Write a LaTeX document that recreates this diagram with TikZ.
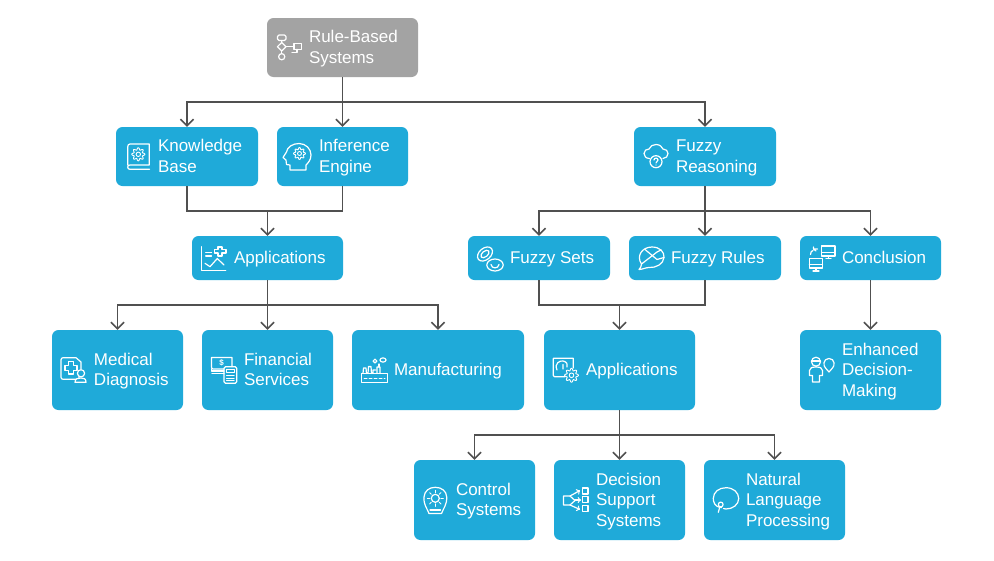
\documentclass[tikz,border=0pt]{standalone}
\usepackage{fontspec}
\setmainfont{Liberation Sans}
\usetikzlibrary{arrows.meta,calc}
\definecolor{boxblue}{HTML}{1FAAD9}
\definecolor{boxgray}{HTML}{A3A3A3}
\definecolor{linegray}{HTML}{505050}
\tikzset{
  box/.style={fill=boxblue,rounded corners=6.5pt,inner sep=0pt,text=white,font=\fontsize{17}{20.5}\selectfont},
  graybox/.style={box,fill=boxgray},
  link/.style={draw=linegray,line width=1.8pt},
  arr/.style={link,-{Straight Barb[length=6.5pt,width=13pt,line width=1.6pt]}},
  ico/.style={draw=white,line width=1.2pt,line cap=round,line join=round},
}
\newcommand{\bx}[7][box]{%
  \pgfmathsetmacro{\bw}{#5-#3}\pgfmathsetmacro{\bh}{#6-#4}%
  \pgfmathsetmacro{\cx}{(#3+#5)/2}\pgfmathsetmacro{\cy}{(#4+#6)/2}%
  \node[#1,minimum width=\bw pt,minimum height=\bh pt] (#2) at (\cx,\cy)
    {\makebox[\bw pt][l]{\hspace{42pt}\begin{tabular}{@{}l@{}}\noalign{\vskip 3pt}#7\end{tabular}}};}
\newcommand{\gearico}[3]{%
  \draw[ico,line width=.9pt] plot[domain=0:360,samples=81,smooth] ({#1+#3*(1+.2*cos(8*\x))*cos(\x)},{#2+#3*(1+.2*cos(8*\x))*sin(\x)});
  \draw[ico,line width=.9pt] (#1,#2) circle[radius=#3*.4];}
\begin{document}
\begin{tikzpicture}[x=1pt,y=-1pt]
\useasboundingbox (0,0) rectangle (994,560);
\fill[white] (0,0) rectangle (994,560);
% boxes
\bx[graybox]{root}{267}{18}{418}{77}{Rule-Based\\Systems}
\bx{kb}{116}{127}{258}{186}{Knowledge\\Base}
\bx{ie}{277}{127}{408}{186}{Inference\\Engine}
\bx{fr}{634}{127}{776}{186}{Fuzzy\\Reasoning}
\bx{appa}{192}{236}{343}{280}{Applications}
\bx{fs}{468}{236}{610}{280}{Fuzzy Sets}
\bx{fru}{629}{236}{781}{280}{Fuzzy Rules}
\bx{conc}{800}{236}{941}{280}{Conclusion}
\bx{med}{52}{330}{183}{410}{Medical\\Diagnosis}
\bx{fin}{202}{330}{333}{410}{Financial\\Services}
\bx{man}{352}{330}{524}{410}{Manufacturing}
\bx{appb}{544}{330}{695}{410}{Applications}
\bx{enh}{800}{330}{941}{410}{Enhanced\\Decision-\\Making}
\bx{ctl}{414}{460}{535}{540}{Control\\Systems}
\bx{dss}{554}{460}{685}{540}{Decision\\Support\\Systems}
\bx{nlp}{704}{460}{845}{540}{Natural\\Language\\Processing}
% connectors
\coordinate (j1) at (root.south |- 0,102);
\draw[link] (root.south) -- (j1);
\draw[arr] (j1) -| (kb.north);
\draw[arr] (j1) -- (ie.north);
\draw[arr] (j1) -| (fr.north);
\coordinate (j2) at (appa.north |- 0,211);
\draw[link] (kb.south) |- (j2);
\draw[link] (ie.south) |- (j2);
\draw[arr] (j2) -- (appa.north);
\coordinate (j3) at (appa.south |- 0,305);
\draw[link] (appa.south) -- (j3);
\draw[arr] (j3) -| (med.north);
\draw[arr] (j3) -- (fin.north);
\draw[arr] (j3) -| (man.north);
\coordinate (j4) at (fr.south |- 0,211);
\draw[link] (fr.south) -- (j4);
\draw[arr] (j4) -| (fs.north);
\draw[arr] (j4) -- (fru.north);
\draw[arr] (j4) -| (conc.north);
\coordinate (j5) at (appb.north |- 0,305);
\draw[link] (fs.south) |- (j5);
\draw[link] (fru.south) |- (j5);
\draw[arr] (j5) -- (appb.north);
\draw[arr] (conc.south) -- (enh.north);
\coordinate (j6) at (appb.south |- 0,435);
\draw[link] (appb.south) -- (j6);
\draw[arr] (j6) -| (ctl.north);
\draw[arr] (j6) -- (dss.north);
\draw[arr] (j6) -| (nlp.north);
% --- icons ---
% root: flowchart
\draw[ico,rounded corners=1.5pt] (277.5,35) rectangle (286,40.5);
\draw[ico] (281.7,40.5) -- (281.7,42.5) (281.7,42.5) -- (286,46.7) -- (281.7,51) -- (277.4,46.7) -- cycle;
\draw[ico] (281.7,51) -- (281.7,53.5);
\draw[ico] (281.7,56.7) circle[radius=3.1];
\draw[ico] (286,46.7) -- (294,46.7);
\draw[ico] (294,43.3) rectangle (301.7,49.3);
\draw[ico] (292,52.5) -- (297,52.5) -- (297,49.3);
% knowledge base: book with gear
\draw[ico] (127.7,165) -- (127.7,147) .. controls (127.7,145) and (128.5,144) .. (130,144) -- (149.3,144) -- (149.3,165) -- (130,165) .. controls (128.5,165) and (127.7,166) .. (127.7,167) .. controls (127.7,168.5) and (128.5,169.3) .. (130,169.3) -- (149.5,169.3);
\gearico{138.3}{154.3}{5.5}
% inference engine: head with gear
\draw[ico] (290,170) -- (290,165) -- (286.5,164.5) -- (286,160) -- (283,157.5) -- (286.5,152) .. controls (287,147) and (293,143.5) .. (299,143.5) .. controls (306,143.5) and (311,149) .. (311,155) .. controls (311,160) and (308,163) .. (306,165) -- (306,170) -- cycle;
\gearico{299.5}{153.5}{5}
% fuzzy reasoning: cloud with question mark
\draw[ico] (649.5,158.5) .. controls (646,158.5) and (644,156) .. (644,153.5) .. controls (644,150.5) and (646.5,149) .. (649,149) .. controls (650,146) and (653,144.5) .. (656,144.5) .. controls (660,144.5) and (662,147) .. (663,149) .. controls (666,149) and (668,151) .. (668,153.5) .. controls (668,156) and (666,158.5) .. (663,158.5);
\draw[ico] (656,161.7) circle[radius=6];
\draw[ico] (654,160) .. controls (654,157.5) and (658,157.5) .. (658,160) .. controls (658,161.5) and (656,161.5) .. (656,163);
\fill[white] (656,165) circle[radius=.7];
% applications 1: chart
\draw[ico] (201.7,246.7) -- (201.7,270.3) -- (225.7,270.3);
\draw[ico] (205.7,252.3) -- (211.5,252.3) (205.7,256) -- (211.5,256);
\draw[ico] (205,263.3) -- (210,266.7) -- (217.3,258.5) -- (224,265);
\draw[ico] (218,247) -- (222,247) -- (222,249.5) -- (226,249.5) -- (226,253) -- (222,253) -- (222,256) -- (218,256) -- (218,253) -- (214.5,253) -- (214.5,249.5) -- (218,249.5) -- cycle;
% fuzzy sets: ovals
\draw[ico,rotate around={40:(485,254)}] (485,254) ellipse[x radius=8.5,y radius=5.8];
\draw[ico,rotate around={40:(485,254)}] (485,254) ellipse[x radius=4.8,y radius=2.8];
\draw[ico] (495,265) ellipse[x radius=8.2,y radius=6];
\draw[ico] (491,264.5) .. controls (491.5,269) and (498.5,269) .. (499,264.5);
% fuzzy rules: bubble with X
\draw[ico] (641.5,264) .. controls (636,256) and (642,247) .. (652,247) .. controls (660,247) and (664.5,252) .. (664,257.5) .. controls (663.5,264) and (656,268) .. (649,267.5) .. controls (646,267.5) and (642,269.5) .. (639,269.5) .. controls (640.5,268) and (641.5,266) .. (641.5,264) -- cycle;
\draw[ico] (645,249.5) -- (657,259.5) -- (664,257.5) (641.5,264) -- (657,252) -- (661,250);
% conclusion: monitors and arrows
\draw[ico] (821.7,246) rectangle (835,256);
\draw[ico] (821.7,252.5) -- (835,252.5) (826,258.5) -- (831,258.5) (828.3,256) -- (828.3,258.5);
\draw[ico] (809.3,258.5) rectangle (822.5,268);
\draw[ico] (809.3,264.5) -- (822.5,264.5) (813,271) -- (819,271) (816,268) -- (816,271);
\draw[ico] (810.5,254.5) .. controls (810.5,252) and (811.5,251) .. (813,250.5) (817.5,249) -- (813.5,249) (813.5,247) -- (813.5,249) -- (816,251);
% applications 2: framed face with gear
\draw[ico] (565,376.7) -- (554.5,376.7) -- (553.3,375.5) -- (553.3,358.3) -- (573.3,358.3) -- (573.3,368);
\draw[ico] (557,370) .. controls (554,363) and (560,360.5) .. (563,361) .. controls (567,361.5) and (568,365) .. (567,367) (563,364.5) -- (563,369);
\gearico{571.5}{375.3}{5.8}
% enhanced: person and bulb
\draw[ico] (816,361.7) circle[radius=4.5];
\draw[ico] (811.5,361) -- (820.5,361);
\draw[ico] (812.5,382) -- (812.5,375.5) -- (809.5,375.5) -- (809.5,370.5) .. controls (809.5,368) and (812,367) .. (816,367) .. controls (820,367) and (822.5,368) .. (822.5,370.5) -- (822.5,375.5) -- (819.5,375.5) -- (819.5,382) -- cycle;
\draw[ico] (825.5,368) .. controls (823,366) and (823,358.5) .. (829,358.5) .. controls (835,358.5) and (835,366) .. (832.5,368) -- (829,372) -- cycle;
% medical
\draw[ico] (79,376.5) -- (79,379.3) -- (63,379.3) .. controls (62,379.3) and (61,378.3) .. (61,377.3) -- (61,359.7) .. controls (61,358.7) and (62,357.7) .. (63,357.7) -- (76,357.7) -- (81,362) -- (81,369);
\draw[ico] (68.5,361.5) -- (73.5,361.5) -- (73.5,365.2) -- (77,365.2) -- (77,370.2) -- (73.5,370.2) -- (73.5,374) -- (68.5,374) -- (68.5,370.2) -- (65,370.2) -- (65,365.2) -- (68.5,365.2) -- cycle;
\draw[ico,fill=boxblue] (81,373.3) circle[radius=3.6];
\draw[ico,fill=boxblue] (75,382.3) .. controls (75,378.5) and (78,378) .. (81,378) .. controls (84,378) and (86,378.5) .. (86,382.3) -- cycle;
% financial
\draw[ico] (224,369) -- (213,369) .. controls (212,369) and (211.5,368) .. (211.5,367) -- (211.5,357.5) -- (232,357.5) -- (232,366.7);
\draw[ico] (211.5,369) -- (211.5,371) -- (224,371) (212,373.5) -- (224,373.5);
\node[text=white,inner sep=0pt,font=\fontsize{8}{8}\bfseries] (dollar) at (221.7,362.6) {\$};
\draw[ico,rounded corners=1.5pt] (224,366.7) rectangle (236.7,383.3);
\draw[ico] (226.5,369.5) rectangle (234.2,372.5);
\draw[ico,line width=1pt] (226.5,375.5) -- (234.2,375.5) (226.5,378) -- (234.2,378) (226.5,380.5) -- (234.2,380.5);
% manufacturing
\draw[ico] (361.7,382.5) rectangle (387.3,373.5);
\draw[ico] (363,373.5) -- (363.5,368) -- (366,368) -- (366.5,373.5) (368,373.5) -- (368.5,366.5) -- (371,366.5) -- (371.5,373.5) (377,373.5) -- (377,367) -- (380,367) -- (380,373.5) (373,373.5) -- (373,370) -- (375.5,370);
\draw[ico,line width=1pt,dash pattern=on 3pt off 2pt] (364,378) -- (385,378);
\draw[ico] (375,361) circle[radius=1.9];
\draw[ico] (383,360) ellipse[x radius=3,y radius=2.1];
\draw[ico] (379,367) -- (379,364);
% control systems
\draw[ico] (429,513.5) .. controls (427,508) and (423.5,505) .. (424,497) .. controls (424.5,491) and (429,487.3) .. (435.3,487.3) .. controls (441.5,487.3) and (446.5,491) .. (446.7,497) .. controls (447,505) and (443.5,508) .. (441.5,513.5) -- cycle;
\draw[ico] (430,510) -- (440.5,510);
\draw[ico] (435.3,498.3) circle[radius=4];
\foreach \a in {0,45,...,315}{\draw[ico,line width=.9pt] ($(435.3,498.3)+(\a:5.5)$) -- ($(435.3,498.3)+(\a:8)$);}
% decision support
\draw[ico] (563.5,496) -- (570,496) -- (575,500.5) -- (570,505) -- (563.5,505) -- cycle;
\draw[ico,->,>=to] (570,496) -- (580,490.5);
\draw[ico,->,>=to] (575,500) -- (581,500);
\draw[ico,->,>=to] (570,505) -- (580,509.5);
\draw[ico] (582.3,488) rectangle (588,494);
\draw[ico] (582.3,496.5) rectangle (588,502.5);
\draw[ico] (582.3,505.5) rectangle (588,511.5);
% NLP: speech loop
\draw[ico] (721.5,507.5) .. controls (714,507) and (713.3,501) .. (713.3,498.5) .. controls (713.3,492) and (719,487.7) .. (726,487.7) .. controls (733.5,487.7) and (738.7,492.5) .. (738.7,498.5) .. controls (738.7,504.5) and (733,509) .. (726,509) -- (723.5,508.5);
\draw[ico] (720.7,504.5) circle[radius=2.4];
\draw[ico] (719.8,507) -- (718.3,512.3);
\end{tikzpicture}
\end{document}
